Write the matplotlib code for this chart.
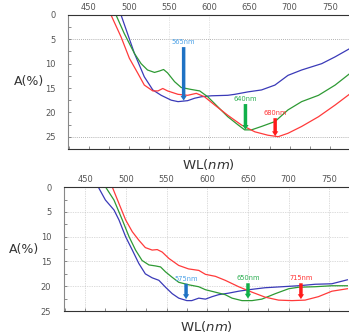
import numpy as np
import matplotlib
matplotlib.use("Agg")
import matplotlib.pyplot as plt

# absorbance spectra, upper panel (wavelength nm, A %)
top_blue_wl = [490, 506.7, 519, 529.6, 540, 552.5, 561, 573, 581.7, 590, 602.5, 623, 631.7,
               648, 665, 681.7, 698, 715, 740, 756.7, 776]
top_blue_a = [0, 7.9, 12.7, 15.4, 16.5, 17.5, 17.8, 17.6, 17.1, 16.8, 16.6, 16.5, 16.3,
              15.8, 15.4, 14.4, 12.4, 11.3, 10, 8.6, 6.8]
top_green_wl = [483.75, 494, 506.7, 515, 523, 531.7, 538, 543, 548, 556.7, 565, 577.5, 588,
                598, 610.8, 623, 636, 644, 652.5, 665, 681.7, 698, 715, 736, 756.7, 776]
top_green_a = [0, 3.8, 7.9, 10, 11.3, 11.8, 11.5, 11.2, 11.9, 13.7, 14.9, 15.3, 15.6,
               16.8, 18.9, 20.9, 22.6, 23.6, 23.6, 22.9, 21.9, 19.5, 17.8, 16.5, 14.4, 11.9]
top_red_wl = [477.5, 490, 500.4, 511, 519, 529.6, 536, 542, 548, 561, 573, 583.75, 594,
              606.7, 623, 640, 656.7, 673, 685.8, 698, 715, 736, 756.7, 776]
top_red_a = [0, 4.5, 8.9, 12, 14.4, 15.6, 15.6, 15.1, 15.6, 16.3, 16.5, 16.1, 16.8,
             18.5, 20.6, 22.6, 24, 24.7, 25, 24.3, 22.9, 20.9, 18.5, 16.1]

# lower panel
bot_blue_wl = [466.3, 475, 485.5, 491.6, 499.8, 508, 516, 524, 532.4, 540.6, 548.8, 557,
               565, 575, 581, 589.6, 597.8, 606, 614, 626, 638.6, 651, 671, 691.6, 712,
               732.4, 752.9, 772]
bot_blue_a = [0, 2.6, 4.6, 6.6, 10, 12.7, 15.4, 17.5, 18.3, 18.8, 20.2, 21.5,
              22.4, 22.9, 22.9, 22.4, 22.6, 22.1, 21.7, 21.4, 21, 20.7, 20.3, 20.1, 19.9,
              19.6, 19.5, 18.7]
bot_green_wl = [475.3, 485.5, 495.7, 504, 512, 520, 528.4, 536.5, 542.7, 548.8, 557, 565,
                577, 589.6, 597.8, 610, 622, 630.4, 642.6, 655, 667, 683.5, 700, 712, 732,
                753, 772]
bot_green_a = [0, 2.6, 6.6, 10, 12.7, 14.8, 15.7, 15.9, 16.1, 17.1, 18.2, 19.2,
               19.7, 20.1, 20.7, 21.2, 21.7, 22.4, 22.9, 22.9, 22.6, 21.5, 20.5, 20.2, 20.1,
               19.9, 19.9]
bot_red_wl = [483.5, 491.6, 499.8, 508, 516, 524, 532.4, 538.6, 544.7, 553, 565, 577,
              589.6, 597.8, 610, 622, 638.6, 655, 671, 687.5, 704, 720, 736.5, 753, 772]
bot_red_a = [0, 3.3, 6.6, 9, 10.7, 12.2, 12.7, 12.6, 13.1, 14.4, 15.8, 16.5,
             16.8, 17.6, 18, 18.8, 20.1, 21.2, 22.2, 22.8, 22.9, 22.8, 22.1, 21, 20.5]

# peak markers: wavelength, arrow start, arrow end, label
top_peaks = [(568, 6.6, 17.6, "565nm"), (645, 18.3, 23.6, "640nm"), (682, 21.2, 24.9, "680nm")]
bot_peaks = [(574, 19.5, 22.6, "575nm"), (650, 19.4, 22.5, "650nm"), (715, 19.4, 22.6, "715nm")]

line_colors = ["#3a3ab8", "#2e9a34", "#ff3a3a"]
arrow_colors = ["#1f72c4", "#10b04a", "#ff1a1a"]
label_colors = ["#4aa0e6", "#2aae50", "#ff3030"]
tick_color = "#555555"


def style_axes(ax, ymax):
    ax.set_xlim(424, 774)
    ax.set_ylim(ymax, 0)
    ax.xaxis.tick_top()
    ax.set_xticks([450, 500, 550, 600, 650, 700, 750])
    ax.set_yticks([0, 5, 10, 15, 20, 25])
    ax.set_yticks(np.arange(0, ymax, 2.5), minor=True)
    ax.set_xticks(np.arange(425, 775, 25), minor=True)
    ax.tick_params(axis="both", which="both", direction="in", labelsize=6,
                   colors="#777777", labelcolor=tick_color, length=2.5, width=0.6)
    ax.tick_params(axis="x", which="both", bottom=True, top=False, pad=2)
    ax.tick_params(axis="y", which="both", pad=9)
    ax.spines["right"].set_visible(False)
    ax.spines["left"].set_color("#888888")
    for s in ["top", "bottom"]:
        ax.spines[s].set_color("#333333")
        ax.spines[s].set_linewidth(0.8)
    ax.set_ylabel("A(%)", rotation=0, fontsize=9, color="#333333", labelpad=1, va="center", ha="right")
    ax.set_xlabel(r"WL($nm$)", fontsize=9.5, color="#333333", labelpad=6)


def draw_peaks(ax, peaks):
    for (wl, a0, a1, text), ac, lc in zip(peaks, arrow_colors, label_colors):
        ax.annotate("", xy=(wl, a1), xytext=(wl, a0),
                    arrowprops=dict(arrowstyle="simple,head_length=0.35,head_width=0.45,tail_width=0.25",
                                    color=ac, lw=0, shrinkA=0, shrinkB=0))
        ax.text(wl, a0 - 0.4, text, color=lc, fontsize=4.8, ha="center", va="bottom")


fig = plt.figure(figsize=(3.49, 3.33), dpi=100)
ax1 = fig.add_axes([0.195, 0.553, 0.805, 0.402])
ax2 = fig.add_axes([0.183, 0.066, 0.817, 0.372])

style_axes(ax1, 27.5)
for yv in [5, 25]:
    ax1.axhline(yv, color="#999999", lw=0.6, ls=(0, (1, 1.5)), zorder=0)
for xv in [550, 600]:
    ax1.axvline(xv, color="#cccccc", lw=0.5, ls=(0, (1, 1.5)), zorder=0)

style_axes(ax2, 25)
ax2.grid(True, which="major", color="#bbbbbb", lw=0.5, ls=(0, (1, 1.5)))

for wl, a, c in zip([top_blue_wl, top_green_wl, top_red_wl],
                    [top_blue_a, top_green_a, top_red_a], line_colors):
    ax1.plot(wl, a, color=c, lw=0.9)
for wl, a, c in zip([bot_blue_wl, bot_green_wl, bot_red_wl],
                    [bot_blue_a, bot_green_a, bot_red_a], line_colors):
    ax2.plot(wl, a, color=c, lw=0.9)

draw_peaks(ax1, top_peaks)
draw_peaks(ax2, bot_peaks)

fig.savefig("out.png", dpi=100)
